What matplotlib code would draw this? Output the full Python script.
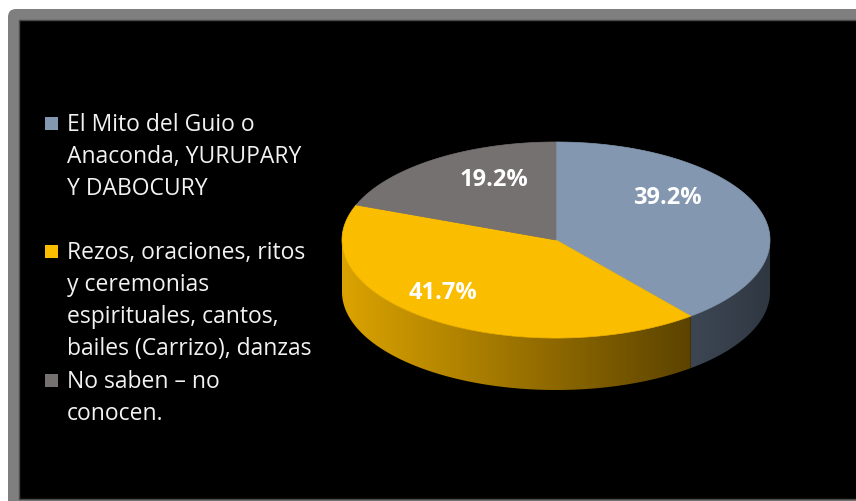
import numpy as np
import matplotlib.pyplot as plt
from matplotlib.patches import Polygon, FancyBboxPatch, Rectangle
from matplotlib.colors import LinearSegmentedColormap

# data
categories = ["El Mito del Guio o\nAnaconda, YURUPARY\nY DABOCURY",
              "Rezos, oraciones, ritos\ny ceremonias\nespirituales, cantos,\nbailes (Carrizo), danzas",
              "No saben \u2013 no\nconocen."]
values = [39.2, 41.7, 19.2]
pct_labels = ["39.2%", "41.7%", "19.2%"]

# style
top_colors = ["#8497B0", "#FBBD00", "#767171"]
side_colors = [("#3D4754", "#2F3741"), ("#DBA300", "#5C4300"), ("#4A4646", "#3A3636")]
label_pos = [(0.52, 0.43), (-0.53, -0.54), (-0.29, 0.61)]   # fractions of the radii
legend_first_baseline = [131, 259, 388]
line_gap = 32

plt.rcParams['font.family'] = ['Open Sans', 'DejaVu Sans']

fig = plt.figure(figsize=(8.56, 5.01), dpi=100)
ax = fig.add_axes([0, 0, 1, 1])
ax.axis('off')

# frame
ax.add_patch(FancyBboxPatch((8, 9), 870, 510, boxstyle="round,pad=0,rounding_size=8",
                            facecolor="#7F7F7F", edgecolor="none", zorder=0))
ax.add_patch(Rectangle((19, 20), 860, 479, facecolor="black", edgecolor="#4a4a4a",
                       linewidth=1, zorder=1))

# 3d pie
cx, cy, a, b, depth = 556, 240, 214, 98, 52

def ell(t, dy=0):
    t = np.radians(t)
    return np.column_stack([cx + a * np.cos(t), cy - b * np.sin(t) + dy])

fracs = np.array(values) / sum(values)
starts = 90 - 360 * np.concatenate([[0], np.cumsum(fracs)[:-1]])
ends = starts - 360 * fracs

# side walls (front half only)
for i in range(len(values)):
    lo, hi = max(ends[i], -180), min(starts[i], 0)
    if lo >= hi:
        continue
    t = np.linspace(lo, hi, 120)
    pts = np.vstack([ell(t), ell(t[::-1], depth)])
    poly = Polygon(pts, closed=True, facecolor="none", edgecolor="none", zorder=2)
    ax.add_patch(poly)
    x0, x1 = pts[:, 0].min(), pts[:, 0].max()
    y0, y1 = pts[:, 1].min(), pts[:, 1].max()
    cmap = LinearSegmentedColormap.from_list("s%d" % i, side_colors[i])
    im = ax.imshow(np.linspace(0, 1, 256).reshape(1, -1), cmap=cmap, aspect='auto',
                   extent=(x0, x1, y1, y0), zorder=2, interpolation='bilinear')
    im.set_clip_path(poly)

# top faces
for i in range(len(values)):
    t = np.linspace(starts[i], ends[i], 200)
    pts = np.vstack([[cx, cy], ell(t)])
    ax.add_patch(Polygon(pts, closed=True, facecolor=top_colors[i],
                         edgecolor=top_colors[i], linewidth=0.5, zorder=3))

for i, (fx, fy) in enumerate(label_pos):
    ax.text(cx + fx * a, cy - fy * b, pct_labels[i], color="white", fontsize=17,
            fontweight="bold", ha="center", va="center", zorder=5)

# legend
for i, cat in enumerate(categories):
    base = legend_first_baseline[i]
    ax.add_patch(Rectangle((45, base - 14), 13, 13, facecolor=top_colors[i],
                           edgecolor="none", zorder=4))
    for j, line in enumerate(cat.split("\n")):
        ax.text(67, base + j * line_gap, line, color="#F2F2F2", fontsize=16.5,
                ha="left", va="baseline", zorder=5)

ax.set_xlim(0, 856)
ax.set_ylim(501, 0)
fig.savefig("out.png", dpi=100, facecolor="white")
